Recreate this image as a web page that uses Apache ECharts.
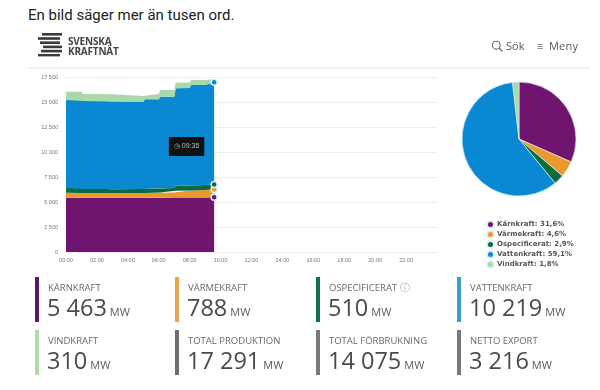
<!DOCTYPE html>
<html>
<head>
<meta charset="utf-8">
<style>
  html, body { margin: 0; padding: 0; background: #fff; }
  #page { position: relative; width: 600px; height: 390px; overflow: hidden; font-family: "Open Sans", sans-serif; }
  #chart { position: absolute; left: 0; top: 0; width: 600px; height: 390px; filter: blur(0.4px); }
  .abs { position: absolute; white-space: nowrap; }
  .soft { filter: blur(0.4px); }
  .tile-bar { position: absolute; width: 4px; height: 45px; }
  .tile-label { position: absolute; font-size: 9.5px; line-height: 12px; color: #6a6a6a; white-space: nowrap; }
  .tile-value { position: absolute; font-size: 23.5px; line-height: 28px; color: #4a4a4a; white-space: nowrap; }
  .tile-value span { font-size: 11px; margin-left: 3px; color: #5a5a5a; }
</style>
</head>
<body>
<div id="page">
  <div class="abs" style="left:28px;top:6px;font:15px/18px Roboto,sans-serif;color:#222">En bild säger mer än tusen ord.</div>
  <svg class="abs soft" style="left:37px;top:32px" width="27" height="26" viewBox="0 0 27 26">
    <g fill="#3a3a3a">
      <rect x="5" y="1" width="20" height="2.6"/>
      <rect x="1" y="5.2" width="22" height="2.6"/>
      <rect x="3" y="9.4" width="20" height="2.6"/>
      <rect x="6" y="13.6" width="19" height="2.6"/>
      <rect x="4" y="17.8" width="21" height="2.6"/>
      <rect x="1" y="22" width="22" height="2.4"/>
    </g>
  </svg>
  <div class="abs soft" style="left:68px;top:36px;font:bold 10px/10px 'Open Sans',sans-serif;letter-spacing:-0.2px;color:#444">SVENSKA<br>KRAFTNÄT</div>
  <svg class="abs soft" style="left:491px;top:40px" width="13" height="13" viewBox="0 0 13 13">
    <circle cx="5.2" cy="5.2" r="3.9" fill="none" stroke="#666" stroke-width="1.1"/>
    <line x1="8" y1="8" x2="11.5" y2="11.5" stroke="#666" stroke-width="1.2"/>
  </svg>
  <div class="abs soft" style="left:506px;top:39px;font:11px/14px 'Open Sans',sans-serif;color:#555">Sök</div>
  <div class="abs soft" style="left:537px;top:39px;font:11px/14px 'Open Sans',sans-serif;color:#777">≡</div>
  <div class="abs soft" style="left:549px;top:39px;font:11px/14px 'Open Sans',sans-serif;letter-spacing:0.2px;color:#555">Meny</div>
  <div class="abs" style="left:28px;top:67px;width:562px;height:2px;background:#f1f1f1"></div>
  <div id="chart"></div>
</div>
<script src="https://cdn.jsdelivr.net/npm/echarts@6/dist/echarts.min.js"></script>
<script>
// reading times, the curve moves in small steps up to 09:35
const times = ["00:00", "01:00", "01:06", "03:00", "03:06", "05:00", "05:06", "06:00", "06:06", "07:00", "07:06", "08:00", "08:06", "09:00", "09:35"];
const karnkraft = [5430, 5430, 5430, 5430, 5430, 5430, 5430, 5430, 5440, 5440, 5450, 5450, 5450, 5460, 5463];
const varmekraft = [500, 500, 480, 470, 470, 480, 480, 500, 510, 520, 680, 690, 700, 740, 788];
const ospecificerat = [470, 460, 380, 370, 390, 400, 400, 430, 430, 430, 520, 510, 510, 510, 510];
const vattenkraft = [8800, 8800, 8810, 8800, 8740, 8720, 8960, 8910, 9150, 9140, 9720, 9750, 10040, 10000, 10219];
const vindkraft = [830, 830, 700, 700, 570, 570, 530, 530, 670, 670, 560, 560, 500, 500, 310];

const sourceNames = ["Kärnkraft", "Värmekraft", "Ospecificerat", "Vattenkraft", "Vindkraft"];
const sourceColors = ["#6f1570", "#ea9a2c", "#0b6b40", "#0a88d2", "#a9d8ab"];
const sharePct = [31.6, 4.6, 2.9, 59.1, 1.8];

const xTickLabels = ["00:00", "02:00", "04:00", "06:00", "08:00", "10:00", "12:00", "14:00", "16:00", "18:00", "20:00", "22:00"];

const tileLabels = ["KÄRNKRAFT", "VÄRMEKRAFT", "OSPECIFICERAT", "VATTENKRAFT", "VINDKRAFT", "TOTAL PRODUKTION", "TOTAL FÖRBRUKNING", "NETTO EXPORT"];
const tileValues = ["5 463", "788", "510", "10 219", "310", "17 291", "14 075", "3 216"];
const tileColors = ["#5d1a63", "#e5a64e", "#12704a", "#3a9ccc", "#b4d9a8", "#6e6e70", "#7a7a7c", "#7a7a7c"];
const tileLefts = [35, 175, 316, 457];
const tileTops = [277, 330];

const page = document.getElementById("page");
tileLabels.forEach((label, i) => {
  const x = tileLefts[i % 4];
  const y = tileTops[i < 4 ? 0 : 1];
  const help = label === "OSPECIFICERAT" ? ' <span style="color:#8fa8a0">&#9432;</span>' : "";
  page.insertAdjacentHTML("beforeend",
    `<div class="tile-bar soft" style="left:${x}px;top:${y}px;background:${tileColors[i]}"></div>` +
    `<div class="tile-label soft" style="left:${x + 13}px;top:${y + 5}px">${label}${help}</div>` +
    `<div class="tile-value soft" style="left:${x + 12}px;top:${y + 16}px">${tileValues[i]}<span>MW</span></div>`);
});

function toTime(hhmm) {
  const parts = hhmm.split(":");
  return Date.UTC(2021, 0, 1, +parts[0], +parts[1]);
}
const dayStart = toTime("00:00");
const twoHours = 2 * 3600 * 1000;

const chart = echarts.init(document.getElementById("chart"));
const last = times.length - 1;
const stackSeries = [karnkraft, varmekraft, ospecificerat, vattenkraft, vindkraft].map((vals, i) => ({
  name: sourceNames[i],
  type: "line",
  stack: "prod",
  data: vals.map((v, j) => [toTime(times[j]), v]),
  // only the latest reading gets a dot, wind has none
  symbol: (v, p) => (p.dataIndex === last && i < 4 ? "circle" : "none"),
  symbolSize: 6,
  showAllSymbol: true,
  lineStyle: { width: 0 },
  areaStyle: { color: sourceColors[i], opacity: 1 },
  itemStyle: { color: sourceColors[i], borderColor: "#dfeef5", borderWidth: 1.5 },
  z: 3,
}));

// time badge shown over the chart
stackSeries[4].markPoint = {
  symbol: "rect",
  symbolSize: 1,
  itemStyle: { color: "rgba(0,0,0,0)" },
  data: [{ coord: [toTime("07:48"), 10550] }],
  label: {
    show: true,
    position: "inside",
    formatter: "◷ 09:35",
    color: "#bbb",
    fontSize: 7,
    backgroundColor: "#111",
    padding: [6, 5],
    borderRadius: 1,
  },
};

chart.setOption({
  animation: false,
  useUTC: true,
  grid: { left: 66, right: 163, top: 77, bottom: 138 },
  xAxis: {
    type: "time",
    min: dayStart,
    max: dayStart + 12 * twoHours,
    minInterval: twoHours,
    maxInterval: twoHours,
    axisLine: { show: false },
    axisTick: { show: false },
    splitLine: { show: false },
    axisLabel: {
      fontSize: 5.5,
      color: "#777",
      margin: 5,
      hideOverlap: false,
      // the time scale also gives odd hours, only even ones are labelled
      formatter: (v) => ((v - dayStart) % twoHours === 0 ? xTickLabels[(v - dayStart) / twoHours] || "" : ""),
    },
  },
  yAxis: {
    type: "value",
    min: 0,
    max: 17500,
    interval: 2500,
    axisLine: { show: false },
    axisTick: { show: false },
    splitLine: { lineStyle: { color: "#eeeeee", width: 1 } },
    axisLabel: {
      fontSize: 5.5,
      color: "#777",
      margin: 8,
      formatter: (v) => String(v).replace(/\B(?=(\d{3})+$)/g, " "),
    },
  },
  legend: {
    orient: "vertical",
    left: 486,
    top: 220,
    padding: 0,
    itemWidth: 7,
    itemHeight: 7,
    itemGap: 1,
    icon: "circle",
    data: sourceNames,
    selectedMode: false,
    textStyle: { fontFamily: "DejaVu Sans", fontSize: 7, fontWeight: "bold", color: "#555", lineHeight: 9, height: 9, padding: [0, 0, 0, -2] },
    formatter: (name) => name + ": " + String(sharePct[sourceNames.indexOf(name)]).replace(".", ",") + "%",
  },
  series: stackSeries.concat([
    {
      type: "pie",
      center: [519, 139],
      radius: [0, 57],
      startAngle: 90,
      clockwise: true,
      label: { show: false },
      labelLine: { show: false },
      itemStyle: { borderColor: "#eaf6fa", borderWidth: 0.6 },
      data: sourceNames.map((n, i) => ({ name: n, value: sharePct[i], itemStyle: { color: sourceColors[i] } })),
    },
  ]),
});
</script>
</body>
</html>
